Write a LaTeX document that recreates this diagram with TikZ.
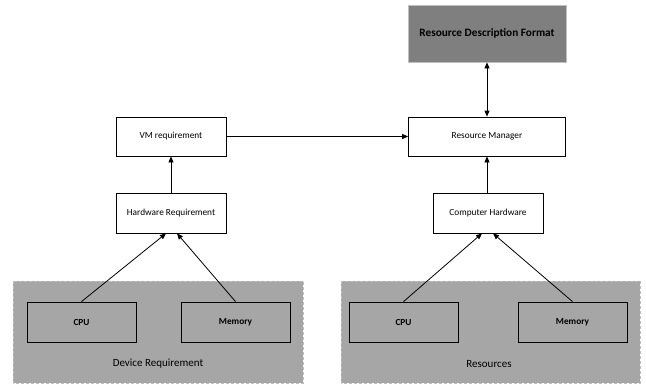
\documentclass[tikz,border=0pt]{standalone}
\usepackage{fontspec}
\setmainfont{Carlito}
\usetikzlibrary{arrows.meta}
\definecolor{groupgray}{HTML}{A6A6A6}
\definecolor{darkbox}{HTML}{7F7F7F}
\definecolor{edgegray}{HTML}{BFBFBF}
\begin{document}
\begin{tikzpicture}[x=1pt,y=-1pt,
  box/.style={draw=black,line width=0.8pt,inner sep=0pt,font=\fontsize{9.3}{11}\selectfont},
  boldbox/.style={box,font=\fontsize{9.3}{11}\selectfont\bfseries,minimum width=109pt,minimum height=40pt},
  group/.style={fill=groupgray,draw=edgegray,densely dashed,line width=0.6pt},
  grouplabel/.style={font=\fontsize{11}{13}\selectfont},
  conn/.style={line width=0.8pt,-{Triangle[length=6pt,width=5pt]}}]
\useasboundingbox (0,0) rectangle (646,384);
% background groups
\path[group] (13,281) rectangle (303,383);
\path[group] (341,281) rectangle (640,383);
\node[grouplabel] (devlbl) at (158,364) {Device Requirement};
\node[grouplabel] (reslbl) at (489,364) {Resources};
% boxes
\node[box,fill=darkbox,draw=edgegray,font=\fontsize{11.3}{13}\selectfont\bfseries,minimum width=158pt,minimum height=57pt] (rdf) at (487,33.5) {Resource Description Format};
\node[box,minimum width=110pt,minimum height=39pt] (vm) at (171,136.5) {VM requirement};
\node[box,minimum width=110pt,minimum height=40pt] (hw) at (171,213) {Hardware Requirement};
\node[box,minimum width=157pt,minimum height=39pt] (rm) at (487,136.5) {Resource Manager};
\node[box,minimum width=110pt,minimum height=40pt] (ch) at (488,213) {Computer Hardware};
\node[boldbox] (cpu1) at (81.5,322) {CPU};
\node[boldbox] (mem1) at (235.5,322) {Memory};
\node[boldbox] (cpu2) at (403.5,322) {CPU};
\node[boldbox] (mem2) at (572.5,322) {Memory};
% connectors
\draw[conn] (hw.north) -- (vm.south);
\draw[conn] (ch.north -| rm.south) -- (rm.south);
\draw[conn] (vm.east) -- (rm.west);
\draw[conn,{Triangle[length=6pt,width=5pt]}-{Triangle[length=6pt,width=5pt]}] (rm.north) -- (rdf.south);
\draw[conn] (cpu1.north) -- ([xshift=-5pt]hw.south);
\draw[conn] (mem1.north) -- ([xshift=6pt]hw.south);
\draw[conn] (cpu2.north) -- ([xshift=-6pt]ch.south);
\draw[conn] (mem2.north) -- ([xshift=5pt]ch.south);
\end{tikzpicture}
\end{document}
